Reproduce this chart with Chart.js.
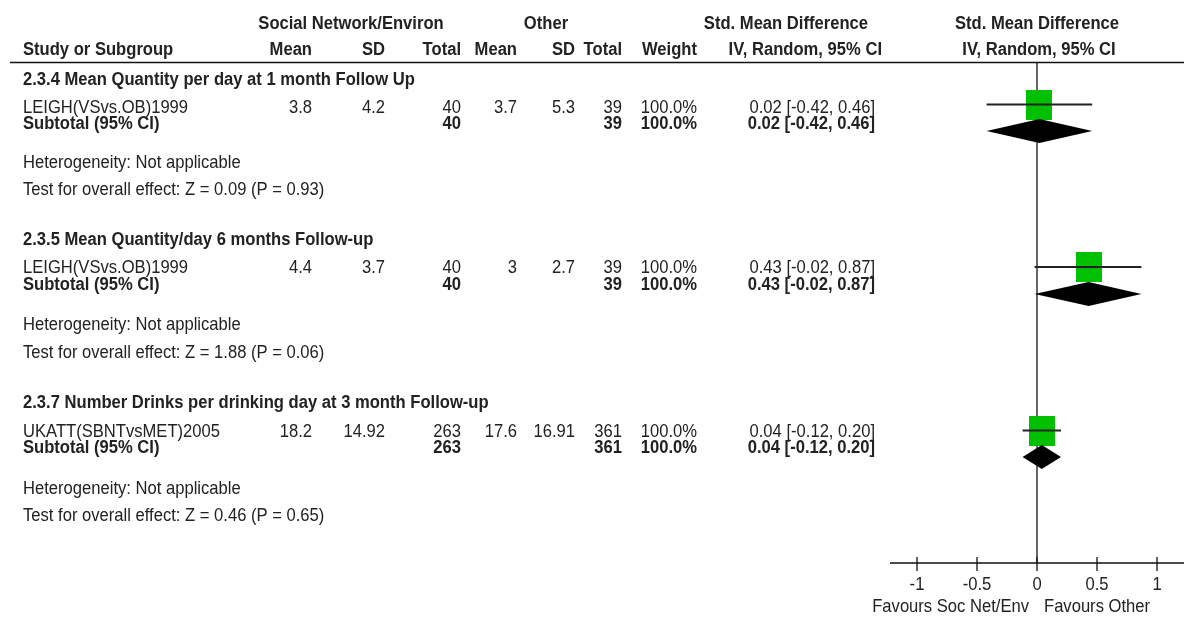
<!DOCTYPE html>
<html>
<head>
<meta charset="utf-8">
<script src="https://cdn.jsdelivr.net/npm/chart.js@4/dist/chart.umd.min.js"></script>
<style>
  html, body { margin: 0; padding: 0; background: #fff; overflow: hidden; }
  #wrap { width: 1184px; height: 617px; }
  canvas { display: block; }
</style>
</head>
<body>
<div id="wrap"><canvas id="forestChart" width="1184" height="617"></canvas></div>
<script>
// --- data ---
const groupTitles = [
    '2.3.4 Mean Quantity per day at 1 month Follow Up',
    '2.3.5 Mean Quantity/day 6 months Follow-up',
    '2.3.7 Number Drinks per drinking day at 3 month Follow-up'
];
const studyNames = ['LEIGH(VSvs.OB)1999', 'LEIGH(VSvs.OB)1999', 'UKATT(SBNTvsMET)2005'];
const socMean = ['3.8', '4.4', '18.2'];
const socSD = ['4.2', '3.7', '14.92'];
const socTotal = [40, 40, 263];
const otherMean = ['3.7', '3', '17.6'];
const otherSD = ['5.3', '2.7', '16.91'];
const otherTotal = [39, 39, 361];
const weights = [100, 100, 100];
const smd = [0.02, 0.43, 0.04];
const ciLow = [-0.42, -0.02, -0.12];
const ciHigh = [0.46, 0.87, 0.20];
const hetTexts = ['Heterogeneity: Not applicable', 'Heterogeneity: Not applicable', 'Heterogeneity: Not applicable'];
const testTexts = [
    'Test for overall effect: Z = 0.09 (P = 0.93)',
    'Test for overall effect: Z = 1.88 (P = 0.06)',
    'Test for overall effect: Z = 0.46 (P = 0.65)'
];
const xTicks = [-1, -0.5, 0, 0.5, 1];
const favoursLeft = 'Favours Soc Net/Env';
const favoursRight = 'Favours Other';

// --- layout (page rows) ---
const headRowY = [80, 240, 403];
const studyRowY = [108, 268, 432];
const subRowY = [124, 285, 448];
const hetRowY = [163, 325, 489];
const testRowY = [190, 353, 516];
const markY = [104.5, 267, 430.5];
const diamondY = [131, 294, 457];

const FONT = '"Liberation Sans", Arial, sans-serif';
const reg = '16.6px ' + FONT;
const bold = 'bold 16.6px ' + FONT;
const ink = '#222';
const stretch = 1.1; // glyphs in the source are a little taller than plain Arial

const fmtCI = i => smd[i].toFixed(2) + ' [' + ciLow[i].toFixed(2) + ', ' + ciHigh[i].toFixed(2) + ']';
const fmtW = w => w.toFixed(1) + '%';

// green box used as point style
const box = document.createElement('canvas');
box.width = 26; box.height = 30;
const bctx = box.getContext('2d');
bctx.fillStyle = '#00c000';
bctx.fillRect(0, 0, 26, 30);

function txt(ctx, s, x, y, align, font) {
    ctx.save();
    ctx.font = font || reg;
    ctx.textAlign = align || 'left';
    ctx.textBaseline = 'middle';
    ctx.translate(x, y);
    ctx.scale(1, stretch);
    ctx.fillText(s, 0, 0);
    ctx.restore();
}

const forestPlugin = {
    id: 'forest',
    beforeDatasetsDraw(chart) {
        const ctx = chart.ctx;
        const xs = chart.scales.x;
        const area = chart.chartArea;
        const x0 = xs.getPixelForValue(0);
        ctx.save();
        ctx.strokeStyle = '#333';
        ctx.lineWidth = 1.5;
        ctx.beginPath();
        ctx.moveTo(x0, area.top);
        ctx.lineTo(x0, area.bottom);
        ctx.stroke();
        ctx.restore();
    },
    afterDatasetsDraw(chart) {
        const ctx = chart.ctx;
        const xs = chart.scales.x;
        const ys = chart.scales.y;
        const area = chart.chartArea;
        ctx.save();

        // subtotal diamonds
        ctx.fillStyle = '#000';
        smd.forEach((v, i) => {
            const y = ys.getPixelForValue(diamondY[i]);
            ctx.beginPath();
            ctx.moveTo(xs.getPixelForValue(ciLow[i]), y);
            ctx.lineTo(xs.getPixelForValue(v), y - 12);
            ctx.lineTo(xs.getPixelForValue(ciHigh[i]), y);
            ctx.lineTo(xs.getPixelForValue(v), y + 12);
            ctx.closePath();
            ctx.fill();
        });

        // header rule
        ctx.strokeStyle = '#111';
        ctx.lineWidth = 1.5;
        ctx.beginPath();
        ctx.moveTo(10, area.top + 0.5);
        ctx.lineTo(area.right, area.top + 0.5);
        ctx.stroke();

        // bottom axis
        const axY = area.bottom;
        ctx.strokeStyle = '#111';
        ctx.lineWidth = 1.3;
        ctx.beginPath();
        ctx.moveTo(area.left, axY);
        ctx.lineTo(area.right, axY);
        xTicks.forEach(t => {
            const px = xs.getPixelForValue(t);
            ctx.moveTo(px, axY - 6);
            ctx.lineTo(px, axY + 8);
        });
        ctx.stroke();

        ctx.fillStyle = ink;
        xTicks.forEach(t => txt(ctx, String(t), xs.getPixelForValue(t), axY + 22, 'center'));
        const x0 = xs.getPixelForValue(0);
        txt(ctx, favoursLeft, x0 - 8, axY + 44, 'right');
        txt(ctx, favoursRight, x0 + 7, axY + 44, 'left');

        // column headers
        txt(ctx, 'Social Network/Environ', 351, 24, 'center', bold);
        txt(ctx, 'Other', 546, 24, 'center', bold);
        txt(ctx, 'Std. Mean Difference', 868, 24, 'right', bold);
        txt(ctx, 'Std. Mean Difference', x0, 24, 'center', bold);
        txt(ctx, 'Study or Subgroup', 23, 50, 'left', bold);
        txt(ctx, 'Mean', 312, 50, 'right', bold);
        txt(ctx, 'SD', 385, 50, 'right', bold);
        txt(ctx, 'Total', 461, 50, 'right', bold);
        txt(ctx, 'Mean', 517, 50, 'right', bold);
        txt(ctx, 'SD', 575, 50, 'right', bold);
        txt(ctx, 'Total', 622, 50, 'right', bold);
        txt(ctx, 'Weight', 697, 50, 'right', bold);
        txt(ctx, 'IV, Random, 95% CI', 882, 50, 'right', bold);
        txt(ctx, 'IV, Random, 95% CI', x0 + 2, 50, 'center', bold);

        // table body
        groupTitles.forEach((g, i) => {
            txt(ctx, g, 23, headRowY[i], 'left', bold);

            let y = studyRowY[i];
            txt(ctx, studyNames[i], 23, y);
            txt(ctx, socMean[i], 312, y, 'right');
            txt(ctx, socSD[i], 385, y, 'right');
            txt(ctx, String(socTotal[i]), 461, y, 'right');
            txt(ctx, otherMean[i], 517, y, 'right');
            txt(ctx, otherSD[i], 575, y, 'right');
            txt(ctx, String(otherTotal[i]), 622, y, 'right');
            txt(ctx, fmtW(weights[i]), 697, y, 'right');
            txt(ctx, fmtCI(i), 875, y, 'right');

            y = subRowY[i];
            txt(ctx, 'Subtotal (95% CI)', 23, y, 'left', bold);
            txt(ctx, String(socTotal[i]), 461, y, 'right', bold);
            txt(ctx, String(otherTotal[i]), 622, y, 'right', bold);
            txt(ctx, fmtW(weights[i]), 697, y, 'right', bold);
            txt(ctx, fmtCI(i), 875, y, 'right', bold);

            txt(ctx, hetTexts[i], 23, hetRowY[i]);
            txt(ctx, testTexts[i], 23, testRowY[i]);
        });

        ctx.restore();
    }
};

const ciSets = smd.map((v, i) => ({
    type: 'scatter',
    data: [{ x: ciLow[i], y: markY[i] }, { x: ciHigh[i], y: markY[i] }],
    showLine: true,
    borderColor: '#222',
    borderWidth: 2,
    pointRadius: 0
}));

const boxSet = {
    type: 'scatter',
    data: smd.map((v, i) => ({ x: v, y: markY[i] })),
    pointStyle: box,
    pointRadius: 13
};

new Chart(document.getElementById('forestChart'), {
    type: 'scatter',
    data: { datasets: ciSets.concat([boxSet]) },
    options: {
        responsive: false,
        animation: false,
        events: [],
        layout: { autoPadding: false, padding: { left: 890, right: 0, top: 62, bottom: 54 } },
        scales: {
            x: { type: 'linear', min: -1.225, max: 1.225, display: false },
            y: { type: 'linear', min: 62, max: 563, reverse: true, display: false }
        },
        plugins: {
            legend: { display: false },
            tooltip: { enabled: false }
        }
    },
    plugins: [forestPlugin]
});
</script>
</body>
</html>
